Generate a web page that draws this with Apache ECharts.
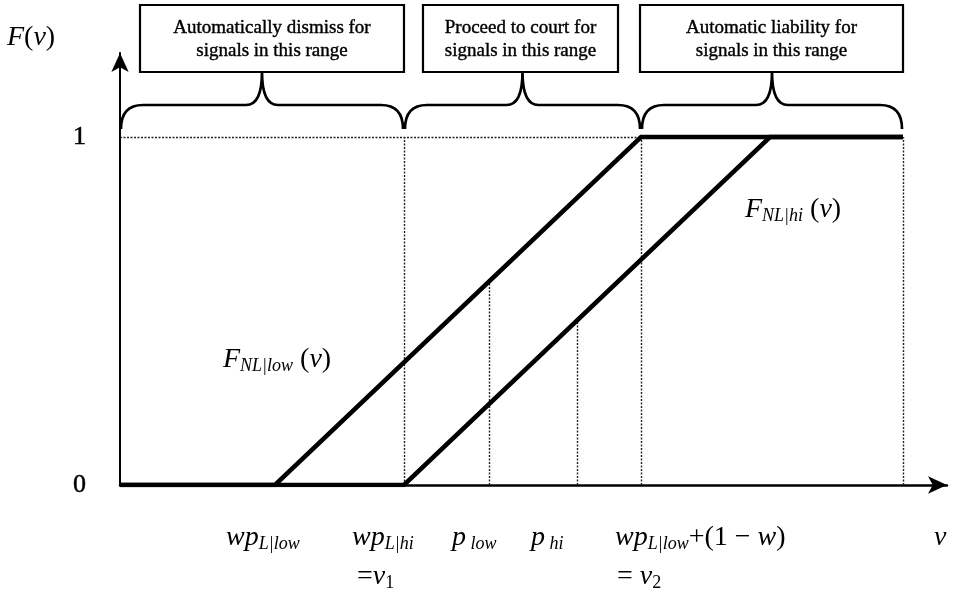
<!DOCTYPE html>
<html><head><meta charset="utf-8">
<script src="https://cdn.jsdelivr.net/npm/echarts@6/dist/echarts.min.js"></script>
<style>html,body{margin:0;padding:0;background:#fff}#c{width:959px;height:592px}</style>
</head><body><div id="c"></div>
<script>
// ---- data (v in arbitrary units 0..100, F in 0..1) ----
const wpLlow = 18.74;   // wp_{L|low}
const wpLhi  = 34.34;   // wp_{L|hi} = v1
const pLow   = 44.62;
const pHi    = 55.26;
const v2     = 63.00;   // wp_{L|low} + (1-w)
const hiTop  = 78.60;   // where F_{NL|hi} reaches 1
const vEnd   = 94.68;   // right end of shown range
const FlowAtPlow = 0.584;
const FhiAtPhi   = 0.474;

const lowCDF = [[0, 0], [wpLlow, 0], [v2, 1], [vEnd, 1]];
const hiCDF  = [[0, 0], [wpLhi, 0], [hiTop, 1], [vEnd, 1]];
const regionBounds = [[0, wpLhi], [wpLhi, v2], [v2, vEnd]];
const regionTexts = [
  'Automatically dismiss for\nsignals in this range',
  'Proceed to court for\nsignals in this range',
  'Automatic liability for\nsignals in this range'
];
const yTickValues = [0, 1];
const yTickLabels = ['0', '1'];
const guideSegments = [
  [[0, 1], [v2, 1]],
  [[wpLhi, 0], [wpLhi, 1]],
  [[v2, 0], [v2, 1]],
  [[vEnd, 0], [vEnd, 1]],
  [[pLow, 0], [pLow, FlowAtPlow]],
  [[pHi, 0], [pHi, FhiAtPhi]]
];
// math labels (rich text)
const mathLabels = [
  '{i|F}{r|(}{i|v}{r|)}',
  '{i|F}{s|NL|low}{r| (}{i|v}{r|)}',
  '{i|F}{s|NL|hi}{r| (}{i|v}{r|)}',
  '{i|wp}{s|L|low}',
  '{i|wp}{s|L|hi}',
  '{r|=}{i|v}{n|1}',
  '{i|p}{s| low}',
  '{i|p}{s| hi}',
  '{i|wp}{s|L|low}{r|+(1 − }{i|w}{r|)}',
  '{r|= }{i|v}{n|2}',
  '{i|v}'
];

// ---- style / layout ----
const labelPos = [
  [7, 38], [223, 360], [745, 210], [226, 538], [352, 538], [357, 577],
  [452, 538], [531, 538], [615, 538], [617, 577], [934, 538]
];
const boxInsets = [[20, 0], [19, 23], [-1, 0]];
const FONT = '"Liberation Serif","Times New Roman",serif';
const INK = { textStroke: '#000', textStrokeWidth: 0.5 };
const rich = {
  i: Object.assign({ fontFamily: FONT, fontStyle: 'italic', fontSize: 28, lineHeight: 31, fill: '#000', color: '#000' }, INK),
  r: Object.assign({ fontFamily: FONT, fontSize: 28, lineHeight: 31, color: '#000' }, INK),
  s: Object.assign({ fontFamily: FONT, fontStyle: 'italic', fontSize: 18, lineHeight: 18, verticalAlign: 'bottom', color: '#000' }, INK),
  n: Object.assign({ fontFamily: FONT, fontSize: 18, lineHeight: 18, verticalAlign: 'bottom', color: '#000' }, INK)
};

const chart = echarts.init(document.getElementById('c'), null, { renderer: 'canvas' });
chart.setOption({
  animation: false,
  backgroundColor: '#fff',
  grid: { left: 120, right: 12, top: 53, bottom: 107, containLabel: false },
  xAxis: {
    type: 'value', min: 0, max: 100,
    axisLine: { show: true, onZero: true, symbol: ['none', 'arrow'], symbolSize: [13, 19], lineStyle: { color: '#000', width: 2.5 } },
    axisTick: { show: false }, axisLabel: { show: false }, splitLine: { show: false }
  },
  yAxis: {
    type: 'value', min: 0, max: 1.2414,
    axisLine: { show: true, onZero: true, symbol: ['none', 'arrow'], symbolSize: [13, 19], lineStyle: { color: '#000', width: 2 } },
    axisTick: { show: false }, splitLine: { show: false },
    axisLabel: {
      show: true, customValues: yTickValues, margin: 34,
      formatter: v => yTickLabels[yTickValues.indexOf(v)],
      fontFamily: FONT, fontSize: 26, color: '#000', padding: [10, 0, 0, 0],
      textBorderColor: '#000', textBorderWidth: 0.5
    }
  },
  series: [
    {
      type: 'line', data: lowCDF, showSymbol: false, symbol: 'none',
      lineStyle: { color: '#000', width: 4.5, cap: 'butt', join: 'miter' }, z: 5,
      markLine: {
        silent: true, symbol: 'none', label: { show: false },
        lineStyle: { color: '#222', width: 1.4, type: [2, 1.5] },
        data: guideSegments.map(s => [{ coord: s[0] }, { coord: s[1] }])
      }
    },
    {
      type: 'line', data: hiCDF, showSymbol: false, symbol: 'none',
      lineStyle: { color: '#000', width: 4.5, cap: 'butt', join: 'miter' }, z: 5
    },
    {
      type: 'custom', clip: false, z: 6,
      data: regionBounds.map((b, i) => [b[0], b[1], i]),
      encode: { x: [0, 1] },
      renderItem: function (params, api) {
        const i = api.value(2);
        const p0 = api.coord([api.value(0), 1]);
        const p1 = api.coord([api.value(1), 1]);
        const x0 = p0[0] + 1, x1 = p1[0] - 1, yb = p0[1];
        const yEnd = yb - 8, yH = yb - 32, yTip = yb - 65;
        const xc = (x0 + x1) / 2;
        const d = 'M' + x0 + ',' + yEnd + ' Q' + x0 + ',' + yH + ' ' + (x0 + 22) + ',' + yH +
          ' L' + (xc - 16) + ',' + yH + ' Q' + xc + ',' + yH + ' ' + xc + ',' + yTip +
          ' Q' + xc + ',' + yH + ' ' + (xc + 16) + ',' + yH +
          ' L' + (x1 - 22) + ',' + yH + ' Q' + x1 + ',' + yH + ' ' + x1 + ',' + yEnd;
        const bx0 = p0[0] + boxInsets[i][0], bx1 = p1[0] - boxInsets[i][1];
        const by0 = 5, by1 = yTip;
        return {
          type: 'group',
          children: [
            { type: 'path', shape: { pathData: d }, style: { fill: null, stroke: '#000', lineWidth: 2.7 } },
            { type: 'rect', shape: { x: bx0, y: by0, width: bx1 - bx0, height: by1 - by0 }, style: { fill: '#fff', stroke: '#000', lineWidth: 2.2 } },
            { type: 'text', x: (bx0 + bx1) / 2, y: (by0 + by1) / 2 + 1,
              style: { text: regionTexts[i], font: '19px ' + FONT, fill: '#000', stroke: '#000', lineWidth: 0.4,
                       align: 'center', verticalAlign: 'middle', lineHeight: 23 } }
          ]
        };
      }
    }
  ],
  graphic: mathLabels.map((t, k) => ({
    type: 'text', x: labelPos[k][0], y: labelPos[k][1], z: 10,
    style: { text: t, rich: rich, align: 'left', verticalAlign: 'middle', fill: '#000' }
  }))
});
</script></body></html>
